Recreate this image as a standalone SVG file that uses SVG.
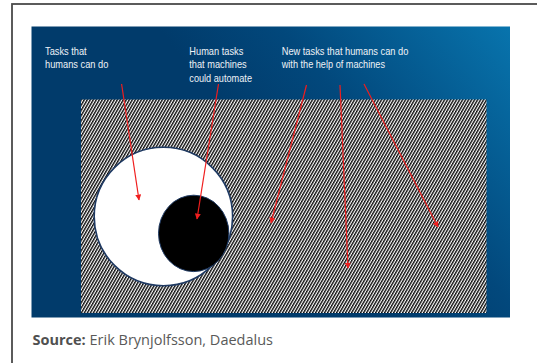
<svg xmlns="http://www.w3.org/2000/svg" width="537" height="363" viewBox="0 0 537 363">
  <defs>
    <linearGradient id="bg" gradientUnits="userSpaceOnUse" x1="300" y1="200" x2="510" y2="26">
      <stop offset="0" stop-color="#013b6b"/>
      <stop offset="0.35" stop-color="#02487c"/>
      <stop offset="1" stop-color="#0874ad"/>
    </linearGradient>
    <pattern id="hatch" patternUnits="userSpaceOnUse" width="2.6" height="10" patternTransform="rotate(30)">
      <rect x="0" y="0" width="2.6" height="10" fill="#ffffff"/>
      <rect x="0" y="0" width="1.4" height="10" fill="#0a0a0a"/>
    </pattern>
    <marker id="arr" viewBox="0 0 10 10" refX="9" refY="5" markerWidth="6" markerHeight="6" markerUnits="userSpaceOnUse" orient="auto">
      <path d="M0,0 L10,5 L0,10 z" fill="#f01e1e"/>
    </marker>
    <style>
      .lbl { font-family: "Liberation Sans", Arial, sans-serif; font-size: 11.5px; fill: #eef2f7; }
      .arrow { stroke: #f01e1e; stroke-width: 1.2; fill: none; marker-end: url(#arr); }
      .src { font-family: "Open Sans", "Noto Sans", sans-serif; font-size: 14.5px; fill: #595959; }
    </style>
  </defs>

  <rect x="0" y="0" width="537" height="363" fill="#ffffff"/>
  <rect x="12" y="4" width="600" height="400" fill="none" stroke="#4a4a4a" stroke-width="1.8"/>

  <rect x="31.5" y="26.5" width="478.5" height="291" fill="url(#bg)"/>
  <rect x="81" y="99.5" width="405.5" height="213.5" fill="url(#hatch)"/>

  <g id="node-humans">
    <circle cx="163.4" cy="216.5" r="69.2" fill="#ffffff" stroke="#1f3a63" stroke-width="1.6"/>
  </g>
  <g id="node-automate">
    <ellipse cx="193.7" cy="233.4" rx="35.2" ry="38.2" fill="#000000" stroke="#1f3a63" stroke-width="1"/>
  </g>

  <g id="label-humans">
    <text class="lbl" x="45" y="54.8" textLength="41.7" lengthAdjust="spacingAndGlyphs">Tasks that</text>
    <text class="lbl" x="45" y="68.3" textLength="63.3" lengthAdjust="spacingAndGlyphs">humans can do</text>
  </g>
  <g id="label-automate">
    <text class="lbl" x="189.3" y="54.8" textLength="54" lengthAdjust="spacingAndGlyphs">Human tasks</text>
    <text class="lbl" x="189.3" y="68.3" textLength="57.4" lengthAdjust="spacingAndGlyphs">that machines</text>
    <text class="lbl" x="189.3" y="81.8" textLength="62.7" lengthAdjust="spacingAndGlyphs">could automate</text>
  </g>
  <g id="label-new">
    <text class="lbl" x="281.7" y="54.5" textLength="126.7" lengthAdjust="spacingAndGlyphs">New tasks that humans can do</text>
    <text class="lbl" x="281.7" y="68" textLength="103.3" lengthAdjust="spacingAndGlyphs">with the help of machines</text>
  </g>

  <g id="connectors">
    <line class="arrow" x1="121.6" y1="84" x2="139" y2="200"/>
    <line class="arrow" x1="218.5" y1="84" x2="197" y2="219"/>
    <line class="arrow" x1="306.5" y1="85" x2="271" y2="223"/>
    <line class="arrow" x1="340" y1="85" x2="348" y2="268"/>
    <line class="arrow" x1="364" y1="84" x2="438" y2="227"/>
  </g>

  <text class="src" x="32.5" y="344.5"><tspan font-weight="bold" fill="#505050">Source:</tspan> Erik Brynjolfsson, Daedalus</text>
</svg>
